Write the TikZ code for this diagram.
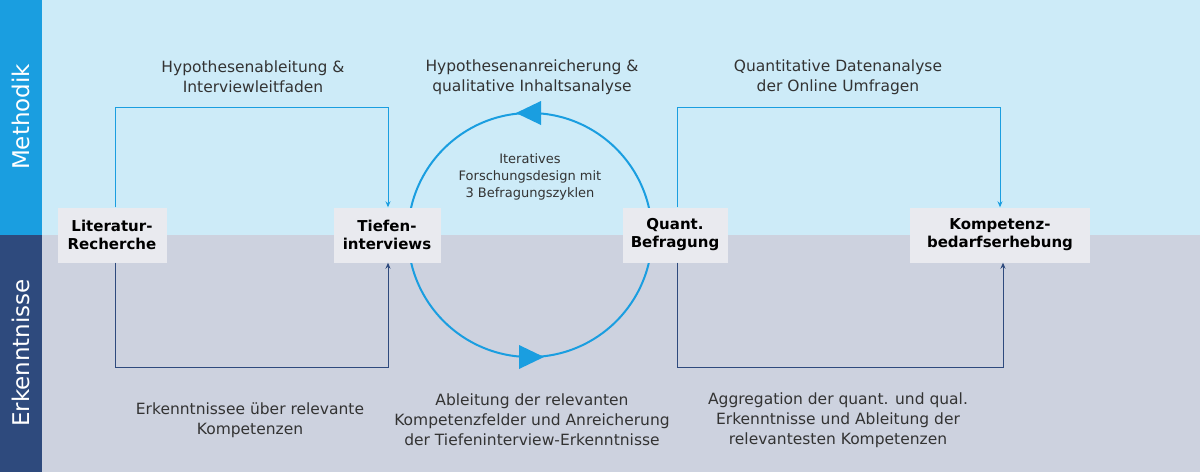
\documentclass[tikz,border=0pt]{standalone}
\usepackage{fontspec}
\setmainfont{DejaVu Sans}
\usetikzlibrary{arrows.meta}
\definecolor{skyband}{HTML}{1A9EE0}
\definecolor{navyband}{HTML}{2E4A7D}
\definecolor{skybg}{HTML}{CDEBF8}
\definecolor{graybg}{HTML}{CDD2DF}
\definecolor{boxfill}{HTML}{E9EAEF}
\definecolor{labeltext}{HTML}{333333}
\tikzset{
  stepbox/.style={fill=boxfill,font=\bfseries\fontsize{15}{18}\selectfont,align=center,inner sep=3pt,minimum height=55pt},
  note/.style={align=center,font=\fontsize{15.5}{20}\selectfont,text=labeltext},
  methodline/.style={skyband,line width=1pt,-{Stealth[length=6pt,width=5pt]}},
  resultline/.style={navyband,line width=1pt,-{Stealth[length=6pt,width=5pt]}}
}
\begin{document}
\begin{tikzpicture}[x=1pt,y=-1pt]
  \useasboundingbox (0,0) rectangle (1200,472);

  % Bands
  \fill[skybg] (0,0) rectangle (1200,235);
  \fill[graybg] (0,235) rectangle (1200,472);
  \fill[skyband] (0,0) rectangle (42,235);
  \fill[navyband] (0,235) rectangle (42,472);
  \node[rotate=90,text=white,font=\fontsize{23}{26}\selectfont] (methodik) at (21,117) {Methodik};
  \node[rotate=90,text=white,font=\fontsize{23}{26}\selectfont] (erkenntnisse) at (21,353) {Erkenntnisse};

  % Iteration cycle
  \coordinate (cyc) at (530,235);
  \draw[skyband,line width=2pt] (cyc) circle[radius=122];
  \fill[skyband] (516,113) -- (541,101) -- (541,125) -- cycle;
  \fill[skyband] (544,357) -- (519,345) -- (519,369) -- cycle;
  \node[note,font=\fontsize{13}{17}\selectfont] (iter) at (530,177) {Iteratives\\Forschungsdesign mit\\3 Befragungszyklen};

  % Steps
  \node[stepbox,minimum width=109pt] (lit) at (112,235) {Literatur-\\Recherche};
  \node[stepbox,minimum width=107pt] (tief) at (387,235) {Tiefen-\\interviews};
  \node[stepbox,minimum width=105pt] (quant) at (675,235) {Quant.\\Befragung};
  \node[stepbox,minimum width=180pt] (komp) at (1000,235) {Kompetenz-\\bedarfserhebung};

  % Method connectors
  \coordinate (m1) at (115,107);
  \coordinate (m2) at (388,107);
  \coordinate (m3) at (677,107);
  \coordinate (m4) at (1000,107);
  \draw[methodline] (lit.north -| m1) |- (m2) -- (tief.north -| m2);
  \draw[methodline] (quant.north -| m3) |- (m4) -- (komp.north -| m4);

  % Result connectors
  \coordinate (r1) at (115,367);
  \coordinate (r2) at (388,367);
  \coordinate (r3) at (677,367);
  \coordinate (r4) at (1003,367);
  \draw[resultline] (lit.south -| r1) |- (r2) -- (tief.south -| r2);
  \draw[resultline] (quant.south -| r3) |- (r4) -- (komp.south -| r4);

  % Labels
  \node[note] (lm1) at (253,77) {Hypothesenableitung \&\\Interviewleitfaden};
  \node[note] (lm2) at (532,77) {Hypothesenanreicherung \&\\qualitative Inhaltsanalyse};
  \node[note] (lm3) at (838,77) {Quantitative Datenanalyse\\der Online Umfragen};
  \node[note] (lr1) at (250,420) {Erkenntnissee über relevante\\Kompetenzen};
  \node[note] (lr2) at (532,420) {Ableitung der relevanten\\Kompetenzfelder und Anreicherung\\der Tiefeninterview-Erkenntnisse};
  \node[note] (lr3) at (838,420) {Aggregation der quant. und qual.\\Erkenntnisse und Ableitung der\\relevantesten Kompetenzen};
\end{tikzpicture}
\end{document}
